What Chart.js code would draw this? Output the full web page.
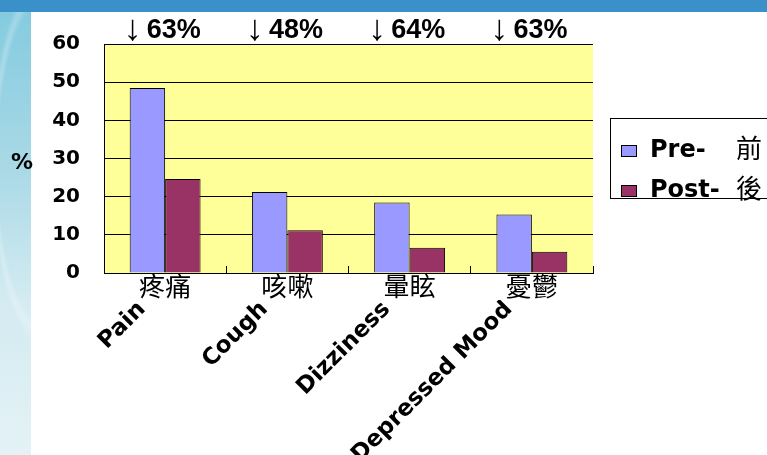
<!DOCTYPE html>
<html>
<head>
<meta charset="utf-8">
<script src="https://cdn.jsdelivr.net/npm/chart.js@4.4.1/dist/chart.umd.min.js"></script>
<style>
  html, body { margin: 0; padding: 0; }
  body { width: 767px; height: 455px; position: relative; overflow: hidden; background: #fff; }
  .band { position: absolute; left: 0; top: 0; width: 767px; height: 12px; background: #3a90c8; }
  .side {
    position: absolute; left: 0; top: 12px; width: 31px; height: 443px;
    background:
      radial-gradient(ellipse 60px 220px at 40px 150px, rgba(255,255,255,0) 70%, rgba(255,255,255,0.25) 76%, rgba(255,255,255,0) 82%),
      linear-gradient(to bottom, #84cbdf 0%, #a9d9e6 35%, #d3ebf1 65%, #e4f2f6 100%);
  }
  #chart { position: absolute; left: 0; top: 0; }
</style>
</head>
<body>
<div class="band"></div>
<div class="side"></div>
<canvas id="chart" width="767" height="455"></canvas>
<script>
const categoriesZh = ['疼痛', '咳嗽', '暈眩', '憂鬱'];
const categoriesEn = ['Pain', 'Cough', 'Dizziness', 'Depressed Mood'];
const preValues = [48.5, 21.2, 18.5, 15.3];
const postValues = [24.6, 11.2, 6.6, 5.6];
const dropLabels = ['63%', '48%', '64%', '63%'];

const EN_FONT = '"DejaVu Sans", sans-serif';
const CJK_FONT = '"Noto Sans CJK TC", "Noto Sans CJK SC", sans-serif';

// yellow plot area behind grid and bars
const plotBackground = {
  id: 'plotBackground',
  beforeDraw(chart) {
    const { ctx, chartArea: a } = chart;
    ctx.save();
    ctx.fillStyle = '#FFFF99';
    ctx.fillRect(a.left, a.top, a.right - a.left, a.bottom - a.top);
    ctx.restore();
  }
};

// drop percentages over each group, the "%" unit and the boxed legend
const extras = {
  id: 'extras',
  afterDraw(chart) {
    const ctx = chart.ctx;
    const meta = chart.getDatasetMeta(0);
    ctx.save();
    ctx.fillStyle = '#000';
    meta.data.forEach((bar, i) => {
      const left = bar.x - bar.width / 2;
      ctx.textBaseline = 'alphabetic';
      ctx.font = '36px "Liberation Sans", Arial, sans-serif';
      ctx.textAlign = 'center';
      ctx.fillText('↓', left + 3, 40);
      ctx.font = 'bold 27px "Liberation Sans", Arial, sans-serif';
      ctx.textAlign = 'left';
      ctx.fillText(dropLabels[i], left + 17, 38);
    });

    ctx.font = 'bold 22px ' + EN_FONT;
    ctx.textAlign = 'center';
    ctx.textBaseline = 'middle';
    ctx.fillText('%', 22, 163);

    // legend
    ctx.strokeStyle = '#000';
    ctx.lineWidth = 1;
    ctx.strokeRect(610.5, 118.5, 200, 80);
    ctx.textAlign = 'left';
    ctx.textBaseline = 'alphabetic';
    chart.data.datasets.forEach((ds, i) => {
      const base = 157 + i * 40;
      ctx.fillStyle = ds.backgroundColor;
      ctx.fillRect(621, base - 12, 16, 12);
      ctx.strokeRect(621.5, base - 11.5, 15, 11);
      const [en, zh] = ds.label.split(' ');
      ctx.fillStyle = '#000';
      ctx.font = 'bold 24px ' + EN_FONT;
      ctx.fillText(en, 650, base);
      ctx.font = '26px ' + CJK_FONT;
      ctx.fillText(zh, 736, base + 1);
    });
    ctx.restore();
  }
};

new Chart(document.getElementById('chart').getContext('2d'), {
  type: 'bar',
  data: {
    labels: categoriesZh,
    datasets: [
      {
        label: 'Pre- 前',
        data: preValues,
        backgroundColor: '#9999FF',
        borderColor: '#000',
        borderWidth: 1
      },
      {
        label: 'Post- 後',
        data: postValues,
        backgroundColor: '#993366',
        borderColor: '#000',
        borderWidth: 1
      }
    ]
  },
  options: {
    responsive: false,
    animation: false,
    devicePixelRatio: 1,
    categoryPercentage: 0.58,
    barPercentage: 1,
    layout: { padding: { left: 0, top: 44, right: 174, bottom: 0 } },
    plugins: {
      legend: { display: false },
      tooltip: { enabled: false }
    },
    scales: {
      x: {
        weight: 0,
        offset: true,
        grid: { display: true, offset: true, drawOnChartArea: false, drawTicks: true, tickLength: -7, color: '#000' },
        border: { display: true, color: '#000', width: 1 },
        ticks: {
          color: '#000',
          font: { family: CJK_FONT, size: 26 },
          padding: 5,
          minRotation: 0,
          maxRotation: 0,
          autoSkip: false
        },
        afterFit(scale) { scale.height = 27; }
      },
      x2: {
        type: 'category',
        labels: categoriesEn,
        position: 'bottom',
        weight: 1,
        offset: true,
        grid: { display: false },
        border: { display: false },
        ticks: {
          color: '#000',
          font: { family: EN_FONT, size: 23, weight: 'bold' },
          minRotation: 45,
          maxRotation: 45,
          autoSkip: false,
          padding: -12,
          labelOffset: -23
        },
        afterFit(scale) { scale.height = 155; }
      },
      y: {
        min: 0,
        max: 60,
        ticks: {
          stepSize: 10,
          color: '#000',
          font: { family: EN_FONT, size: 20, weight: 'bold' },
          padding: 24
        },
        grid: { color: '#000', drawTicks: false, lineWidth: 1 },
        border: { display: true, color: '#000' },
        afterFit(scale) { scale.width = 104; }
      }
    }
  },
  plugins: [plotBackground, extras]
});
</script>
</body>
</html>
